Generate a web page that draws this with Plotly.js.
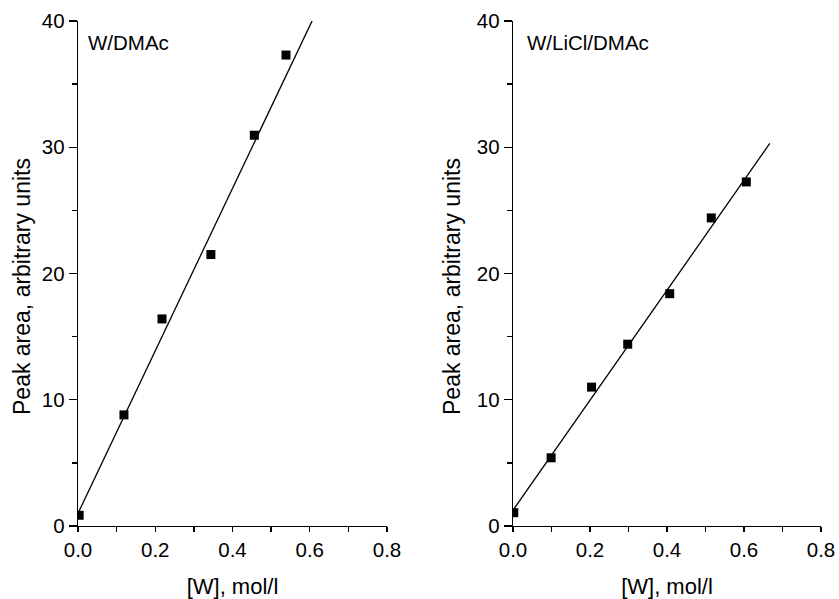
<!DOCTYPE html>
<html>
<head>
<meta charset="utf-8">
<script src="https://cdn.plot.ly/plotly-3.0.1.min.js"></script>
<style>html,body{margin:0;padding:0;background:#fff;}#chart{width:839px;height:599px;}</style>
</head>
<body>
<div id="chart"></div>
<script>
// Left panel: W/DMAc
const xDMAc = [0.003, 0.119, 0.2175, 0.344, 0.4565, 0.5385];
const yDMAc = [0.85, 8.8, 16.4, 21.5, 30.95, 37.3];
const fitXDMAc = [0, 0.606];
const fitYDMAc = [1.0, 40];

// Right panel: W/LiCl/DMAc
const xLiCl = [0.002, 0.099, 0.204, 0.298, 0.407, 0.515, 0.606];
const yLiCl = [1.05, 5.4, 11.0, 14.4, 18.4, 24.4, 27.25];
const fitXLiCl = [0, 0.667];
const fitYLiCl = [1.25, 30.3];

const xTickVals = [0, 0.2, 0.4, 0.6, 0.8];
const xTickText = ['0.0', '0.2', '0.4', '0.6', '0.8'];
const yTickVals = [0, 10, 20, 30, 40];
const yTickText = ['0', '10', '20', '30', '40'];

const panelLabels = ['W/DMAc', 'W/LiCl/DMAc'];
const xTitle = '[W], mol/l';
const yTitle = 'Peak area, arbitrary units';

const FONT = 'Liberation Sans, Arial, sans-serif';

const traces = [
  {x: fitXDMAc, y: fitYDMAc, xaxis: 'x', yaxis: 'y', mode: 'lines', line: {color: '#000', width: 1.3}, hoverinfo: 'skip'},
  {x: xDMAc, y: yDMAc, xaxis: 'x', yaxis: 'y', mode: 'markers', marker: {symbol: 'square', size: 9, color: '#000'}},
  {x: fitXLiCl, y: fitYLiCl, xaxis: 'x2', yaxis: 'y2', mode: 'lines', line: {color: '#000', width: 1.3}, hoverinfo: 'skip'},
  {x: xLiCl, y: yLiCl, xaxis: 'x2', yaxis: 'y2', mode: 'markers', marker: {symbol: 'square', size: 9, color: '#000'}}
];

function xAxis(domain, anchor) {
  return {
    domain: domain, anchor: anchor, range: [0, 0.8],
    tickvals: xTickVals, ticktext: xTickText,
    ticks: 'outside', ticklen: 5, tickwidth: 1.3, tickcolor: '#000',
    minor: {dtick: 0.1, ticks: 'outside', ticklen: 5, tickwidth: 1.3, tickcolor: '#000', showgrid: false},
    showline: true, linecolor: '#000', linewidth: 1.3, showgrid: false, zeroline: false,
    tickfont: {family: FONT, size: 20.5, color: '#000'},
    title: {text: xTitle, font: {family: FONT, size: 22, color: '#000'}, standoff: 18}
  };
}
function yAxis(anchor) {
  return {
    domain: [0.1219, 0.965], anchor: anchor, range: [0, 40],
    tickvals: yTickVals, ticktext: yTickText,
    ticks: 'outside', ticklen: 8, tickwidth: 1.3, tickcolor: '#000',
    minor: {dtick: 5, ticks: 'outside', ticklen: 5, tickwidth: 1.3, tickcolor: '#000', showgrid: false},
    showline: true, linecolor: '#000', linewidth: 1.3, showgrid: false, zeroline: false,
    tickfont: {family: FONT, size: 20.5, color: '#000'}
  };
}

function yTitleNote(xPaper) {
  return {xref: 'paper', yref: 'paper', x: xPaper, y: 1 - 287/599, xanchor: 'center', yanchor: 'middle',
          showarrow: false, textangle: -90, text: yTitle, font: {family: FONT, size: 23, color: '#000'}};
}

const layout = {
  width: 839, height: 599,
  margin: {l: 0, r: 0, t: 0, b: 0},
  paper_bgcolor: '#fff', plot_bgcolor: '#fff',
  showlegend: false,
  xaxis: xAxis([78/839, 387/839], 'y'),
  yaxis: yAxis('x'),
  xaxis2: xAxis([513/839, 821/839], 'y2'),
  yaxis2: yAxis('x2'),
  annotations: [
    {xref: 'x domain', yref: 'y domain', x: 0.025, y: 0.957, xanchor: 'left', yanchor: 'middle', showarrow: false,
     text: panelLabels[0], font: {family: FONT, size: 20.5, color: '#000'}},
    {xref: 'x2 domain', yref: 'y2 domain', x: 0.04, y: 0.957, xanchor: 'left', yanchor: 'middle', showarrow: false,
     text: panelLabels[1], font: {family: FONT, size: 20.5, color: '#000'}},
    yTitleNote(22/839),
    yTitleNote(452/839)
  ]
};

Plotly.newPlot('chart', traces, layout, {staticPlot: true, displayModeBar: false});
</script>
</body>
</html>
